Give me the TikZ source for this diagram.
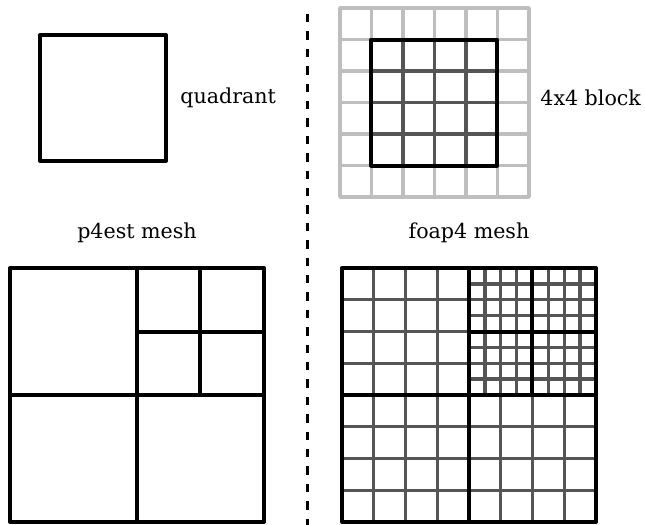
\documentclass[tikz,border=0pt]{standalone}
\usepackage{fontspec}
\setmainfont{DejaVu Serif}
\usetikzlibrary{positioning}
\definecolor{lgrey}{RGB}{190,190,190}
\definecolor{dgrey}{RGB}{85,85,85}

\begin{document}
\begin{tikzpicture}[
  x=0.5pt, y=-0.5pt,
  edge/.style={line width=2pt, line cap=round, line join=round},
  fine/.style={line width=1.7pt, dgrey},
  halo/.style={line width=1.7pt, lgrey, line join=round},
  lbl/.style={font=\fontsize{10.3}{12}\selectfont, inner sep=0pt}
]
  \useasboundingbox (0,0) rectangle (645,525);

  % single quadrant
  \draw[edge] (40,35) rectangle (166,161);
  \node[lbl, anchor=west] (quad) at (180,98) {quadrant};

  % separator
  \draw[line width=1.5pt, dash pattern=on 4.2pt off 4.5pt] (308,14) -- (308,525);

  % 4x4 block with its halo
  \foreach \i in {1,...,5} {
    \draw[halo] (340+\i*31.5,8) -- ++(0,189);
    \draw[halo] (340,8+\i*31.5) -- ++(189,0);
  }
  \draw[halo] (340,8) rectangle ++(189,189);
  \foreach \i in {1,2,3} {
    \draw[fine] (371.5+\i*31.5,39.5) -- ++(0,126);
    \draw[fine] (371.5,39.5+\i*31.5) -- ++(126,0);
  }
  \draw[edge] (371.5,39.5) rectangle ++(126,126);
  \node[lbl, anchor=west] (block) at (540,98) {4x4 block};

  % titles
  \node[lbl] (p4est) at (137,233) {p4est mesh};
  \node[lbl] (foap4) at (469,233) {foap4 mesh};

  % p4est mesh
  \draw[edge] (10,268) rectangle (264,522);
  \draw[edge] (137,268) -- (137,522);
  \draw[edge] (10,395) -- (264,395);
  \draw[edge] (200.5,268) -- (200.5,395);
  \draw[edge] (137,331.5) -- (264,331.5);

  % foap4 mesh
  \foreach \ox/\oy in {342/268, 342/395, 469/395} {
    \foreach \i in {1,2,3} {
      \draw[fine] (\ox+\i*31.75,\oy) -- ++(0,127);
      \draw[fine] (\ox,\oy+\i*31.75) -- ++(127,0);
    }
  }
  \foreach \ox/\oy in {469/268, 532.5/268, 469/331.5, 532.5/331.5} {
    \foreach \i in {1,2,3} {
      \draw[fine] (\ox+\i*15.875,\oy) -- ++(0,63.5);
      \draw[fine] (\ox,\oy+\i*15.875) -- ++(63.5,0);
    }
  }
  \draw[edge] (342,268) rectangle (596,522);
  \draw[edge] (469,268) -- (469,522);
  \draw[edge] (342,395) -- (596,395);
  \draw[edge] (532.5,268) -- (532.5,395);
  \draw[edge] (469,331.5) -- (596,331.5);
\end{tikzpicture}
\end{document}
